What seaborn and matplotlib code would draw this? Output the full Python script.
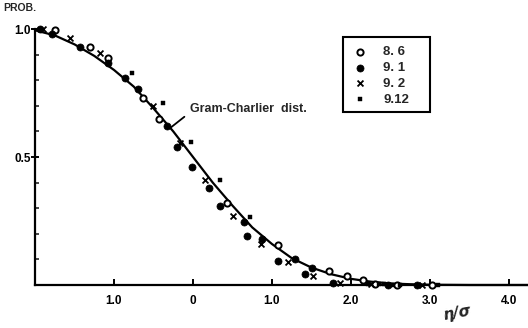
import matplotlib
matplotlib.use("Agg")
import matplotlib.pyplot as plt
from matplotlib.patches import Rectangle
from matplotlib.ticker import FixedLocator, MultipleLocator
import seaborn as sns
import pandas as pd

# Gram-Charlier exceedance curve (read values)
curve_x = [-2.0, -1.75, -1.5, -1.25, -1.0, -0.75, -0.5, -0.25, 0.0, 0.25, 0.5,
           0.75, 1.0, 1.25, 1.5, 1.75, 2.0, 2.25, 2.5, 2.75, 3.0, 3.5, 4.25]
curve_y = [0.995, 0.975, 0.94, 0.895, 0.84, 0.775, 0.69, 0.60, 0.50, 0.40, 0.31,
           0.225, 0.16, 0.105, 0.068, 0.042, 0.024, 0.013, 0.006, 0.003, 0.001, 0.0, 0.0]

# Observations, by date
obs_86_x = [-1.75, -1.30, -1.08, -0.63, -0.43, 0.43, 1.08, 1.72, 1.95, 2.15, 2.30, 2.58, 3.03]
obs_86_y = [0.996, 0.93, 0.887, 0.73, 0.65, 0.32, 0.155, 0.055, 0.035, 0.02, 0.003, 0.0, 0.0]

obs_91_x = [-1.94, -1.78, -1.43, -1.08, -0.86, -0.70, -0.33, -0.20, -0.01, 0.20, 0.34,
            0.65, 0.68, 0.87, 1.08, 1.29, 1.42, 1.51, 1.77, 2.47, 2.84]
obs_91_y = [1.0, 0.98, 0.93, 0.867, 0.81, 0.765, 0.62, 0.54, 0.46, 0.38, 0.31,
            0.245, 0.19, 0.18, 0.095, 0.10, 0.043, 0.066, 0.008, 0.0, 0.0]

obs_92_x = [-1.90, -1.56, -1.18, -0.50, -0.16, 0.15, 0.51, 0.86, 1.20, 1.52, 1.86, 2.25, 2.90]
obs_92_y = [1.0, 0.965, 0.905, 0.70, 0.555, 0.41, 0.27, 0.16, 0.09, 0.035, 0.008, 0.004, 0.0]

obs_912_x = [-0.77, -0.38, -0.03, 0.34, 0.72, 2.22, 2.35, 2.42, 2.52, 2.62, 3.10]
obs_912_y = [0.83, 0.71, 0.56, 0.41, 0.265, 0.003, 0.002, 0.002, 0.001, 0.0, 0.0]

x_ticks = [-1.0, 0.0, 1.0, 2.0, 3.0, 4.0]
x_tick_labels = ["1.0", "0", "1.0", "2.0", "3.0", "4.0"]
y_ticks = [0.5, 1.0]
y_tick_labels = ["0.5", "1.0"]

sns.set_style("ticks")
plt.rcParams["font.family"] = ["Liberation Sans", "DejaVu Sans"]
plt.rcParams["font.weight"] = "bold"

W, H = 528, 328
fig = plt.figure(figsize=(W / 100, H / 100), dpi=100)
ax = fig.add_axes([35 / W, 1 - 285 / H, 1 - 35 / W, (285 - 29) / H])

curve = pd.DataFrame({"x": curve_x, "y": curve_y})
sns.lineplot(data=curve, x="x", y="y", color="black", linewidth=1.6, ax=ax,
             sort=False, legend=False, clip_on=False)

common = dict(ax=ax, clip_on=False, zorder=3)
sns.scatterplot(x=obs_86_x, y=obs_86_y, marker="o", s=20, facecolor="white",
                edgecolor="black", linewidth=1.4, label="8. 6", **common)
sns.scatterplot(x=obs_91_x, y=obs_91_y, marker="o", s=26, color="black",
                edgecolor="black", linewidth=0.5, label="9. 1", **common)
sns.scatterplot(x=obs_92_x, y=obs_92_y, marker="x", s=18, color="black",
                linewidth=1.3, label="9. 2", **common)
sns.scatterplot(x=obs_912_x, y=obs_912_y, marker="s", s=10, color="black",
                edgecolor="black", linewidth=0.3, label="9.12", **common)

ax.set_xlim(-2.0, (W - 193) / 79)
ax.set_ylim(0, 1.0)
ax.set_xlabel("")
ax.set_ylabel("")

for side in ("top", "right"):
    ax.spines[side].set_visible(False)
for side in ("left", "bottom"):
    ax.spines[side].set_linewidth(1.6)
    ax.spines[side].set_color("black")

ax.xaxis.set_major_locator(FixedLocator(x_ticks))
ax.set_xticklabels(x_tick_labels)
ax.yaxis.set_major_locator(FixedLocator(y_ticks))
ax.set_yticklabels(y_tick_labels)
ax.yaxis.set_minor_locator(MultipleLocator(0.1))

ax.tick_params(axis="x", direction="in", length=4, width=1.4, pad=7,
               labelsize=8.5, colors="black")
ax.tick_params(axis="y", which="major", direction="inout", length=6, width=1.4,
               pad=0, labelsize=8.5, colors="black")
ax.tick_params(axis="y", which="minor", direction="in", length=3, width=1.2)
for lab in ax.get_xticklabels() + ax.get_yticklabels():
    lab.set_fontweight("bold")

# legend entries without frame; the box is drawn separately
leg = ax.legend(loc="upper left", bbox_to_anchor=(353 / W, 1 - 46 / H),
                bbox_transform=fig.transFigure, frameon=False,
                borderpad=0, borderaxespad=0,
                handlelength=1.0, handletextpad=1.3, labelspacing=0.27,
                prop={"weight": "bold", "size": 9.5})
fig.patches.append(Rectangle((343 / W, 1 - 112 / H), 87 / W, 75 / H,
                             transform=fig.transFigure, fill=False,
                             edgecolor="black", linewidth=1.5))

ax.annotate("Gram-Charlier  dist.", xy=(-0.29, 0.613), xytext=(-0.04, 0.688),
            textcoords="data", fontsize=9, fontweight="bold", va="center",
            ha="left",
            arrowprops=dict(arrowstyle="-", color="black", lw=1.3,
                            shrinkA=2, shrinkB=0, relpos=(0, 0.2)))

fig.text(3 / W, 1 - 8 / H, "PROB.", fontsize=7.5, fontweight="bold",
         ha="left", va="center")
fig.text(457 / W, 1 - 313 / H, "η/σ", fontsize=11, fontstyle="italic",
         ha="center", va="center", rotation=10, family="DejaVu Sans")

fig.savefig("out.png", dpi=100)
